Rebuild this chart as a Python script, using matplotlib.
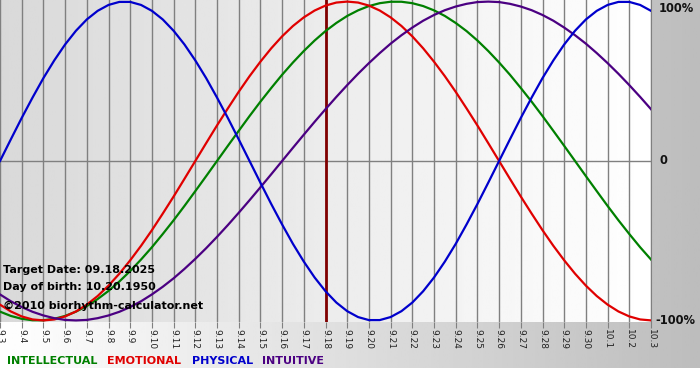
"""Biorhythm chart, 09.03 to 10.03, target 09.18.2025."""

import matplotlib
matplotlib.use("Agg")
import matplotlib.pyplot as plt
import numpy as np

# Day labels along the bottom
dates = ["9.3", "9.4", "9.5", "9.6", "9.7", "9.8", "9.9", "9.10", "9.11", "9.12",
         "9.13", "9.14", "9.15", "9.16", "9.17", "9.18", "9.19", "9.20", "9.21",
         "9.22", "9.23", "9.24", "9.25", "9.26", "9.27", "9.28", "9.29", "9.30",
         "10.1", "10.2", "10.3"]
target_date = "9.18"

# Values read every half day (fraction of 100%), 9.3 -> 10.3
physical = [0.0, 0.136, 0.27, 0.398, 0.52, 0.631, 0.731, 0.817, 0.888, 0.942, 0.979,
            0.998, 0.998, 0.979, 0.942, 0.888, 0.817, 0.731, 0.631, 0.52, 0.398,
            0.27, 0.136, 0.0, -0.136, -0.27, -0.398, -0.52, -0.631, -0.731, -0.817,
            -0.888, -0.942, -0.979, -0.998, -0.998, -0.979, -0.942, -0.888, -0.817,
            -0.731, -0.631, -0.52, -0.398, -0.27, -0.136, 0.0, 0.136, 0.27, 0.398,
            0.52, 0.631, 0.731, 0.817, 0.888, 0.942, 0.979, 0.998, 0.998, 0.979,
            0.942]
emotional = [-0.901, -0.944, -0.975, -0.994, -1.0, -0.994, -0.975, -0.944, -0.901,
             -0.847, -0.782, -0.707, -0.623, -0.532, -0.434, -0.33, -0.223, -0.112,
             0.0, 0.112, 0.223, 0.33, 0.434, 0.532, 0.623, 0.707, 0.782, 0.847,
             0.901, 0.944, 0.975, 0.994, 1.0, 0.994, 0.975, 0.944, 0.901, 0.847,
             0.782, 0.707, 0.623, 0.532, 0.434, 0.33, 0.223, 0.112, 0.0, -0.112,
             -0.223, -0.33, -0.434, -0.532, -0.623, -0.707, -0.782, -0.847, -0.901,
             -0.944, -0.975, -0.994, -1.0]
intellectual = [-0.945, -0.972, -0.99, -0.999, -0.999, -0.99, -0.972, -0.945, -0.91,
                -0.866, -0.815, -0.756, -0.69, -0.618, -0.541, -0.458, -0.372,
                -0.282, -0.189, -0.095, 0.0, 0.095, 0.189, 0.282, 0.372, 0.458,
                0.541, 0.618, 0.69, 0.756, 0.815, 0.866, 0.91, 0.945, 0.972, 0.99,
                0.999, 0.999, 0.99, 0.972, 0.945, 0.91, 0.866, 0.815, 0.756, 0.69,
                0.618, 0.541, 0.458, 0.372, 0.282, 0.189, 0.095, 0.0, -0.095, -0.189,
                -0.282, -0.372, -0.458, -0.541, -0.618]
intuitive = [-0.837, -0.88, -0.916, -0.946, -0.969, -0.986, -0.997, -1.0, -0.997,
             -0.986, -0.969, -0.946, -0.916, -0.88, -0.837, -0.789, -0.736, -0.677,
             -0.614, -0.547, -0.476, -0.402, -0.325, -0.246, -0.165, -0.083, 0.0,
             0.083, 0.165, 0.246, 0.325, 0.402, 0.476, 0.547, 0.614, 0.677, 0.736,
             0.789, 0.837, 0.88, 0.916, 0.946, 0.969, 0.986, 0.997, 1.0, 0.997,
             0.986, 0.969, 0.946, 0.916, 0.88, 0.837, 0.789, 0.736, 0.677, 0.614,
             0.547, 0.476, 0.402, 0.325]

info_lines = ["Target Date: 09.18.2025", "Day of birth: 10.20.1950",
              "\u00a92010 biorhythm-calculator.net"]
legend_words = ["INTELLECTUAL", "EMOTIONAL", "PHYSICAL", "INTUITIVE"]

W, H = 700, 380
fig = plt.figure(figsize=(W / 100, H / 100), dpi=100)
fig.patch.set_facecolor("white")

# background band behind everything (white -> gray)
bg = fig.add_axes([0, 1 - 368 / H, 1, 368 / H], zorder=0)
grad = np.linspace(1.0, 0.74, 256).reshape(1, -1)
bg.imshow(grad, cmap="gray", vmin=0, vmax=1, aspect="auto", extent=[0, 1, 0, 1])
bg.set_axis_off()

ax = fig.add_axes([0, 1 - 322 / H, 651 / W, 322 / H], zorder=1)
day_idx = np.arange(len(dates))
half_days = np.arange(len(physical)) / 2
ax.set_xlim(0, len(dates) - 1)
ax.set_ylim(-1.01, 1.01)

# plot area background (gray -> white)
pgrad = np.linspace(0.85, 1.0, 256).reshape(1, -1)
ax.imshow(pgrad, cmap="gray", vmin=0, vmax=1, aspect="auto",
          extent=[0, len(dates) - 1, -1.01, 1.01], zorder=0)

for xi in day_idx:
    ax.axvline(xi, color="#808080", lw=1, zorder=1)
ax.axhline(0, color="#808080", lw=1, zorder=1)

ti = dates.index(target_date)
ax.axvline(ti, color="#800000", lw=2, zorder=2)

ax.plot(half_days, intellectual, color="#008000", lw=1.6, zorder=3)
ax.plot(half_days, emotional, color="#e00000", lw=1.6, zorder=3)
ax.plot(half_days, intuitive, color="#4b0082", lw=1.6, zorder=3)
ax.plot(half_days, physical, color="#0000cc", lw=1.6, zorder=3)

ax.set_xticks(day_idx)
ax.set_xticklabels(dates, rotation=-90, fontsize=6.5, color="#222222")
ax.tick_params(axis="x", length=4, color="#808080", pad=1)
ax.set_yticks([])
for s in ["top", "left", "bottom"]:
    ax.spines[s].set_visible(False)
ax.spines["right"].set_color("#808080")

# right-hand percent labels
for ypx, xpx, lab in [(8, 659, "100%"), (161, 660, "0"), (321, 655, "-100%")]:
    fig.text(xpx / W, 1 - ypx / H, lab, ha="left", va="center", fontsize=8.3,
             fontweight="bold", color="#111111")

# info text lower left
for line, ypx in zip(info_lines, [270, 287, 306]):
    fig.text(3 / W, 1 - ypx / H, line, ha="left", va="center", fontsize=8,
             fontweight="bold", color="black", zorder=5)

# legend words along the bottom
legend_colors = ["#008000", "#e00000", "#0000cc", "#4b0082"]
legend_x = [7, 107, 192, 262]
for word, col, lx in zip(legend_words, legend_colors, legend_x):
    fig.text(lx / W, 1 - 361 / H, word, ha="left", va="center", fontsize=8,
             fontweight="bold", color=col)

plt.savefig("out.png", dpi=100)
plt.close()
